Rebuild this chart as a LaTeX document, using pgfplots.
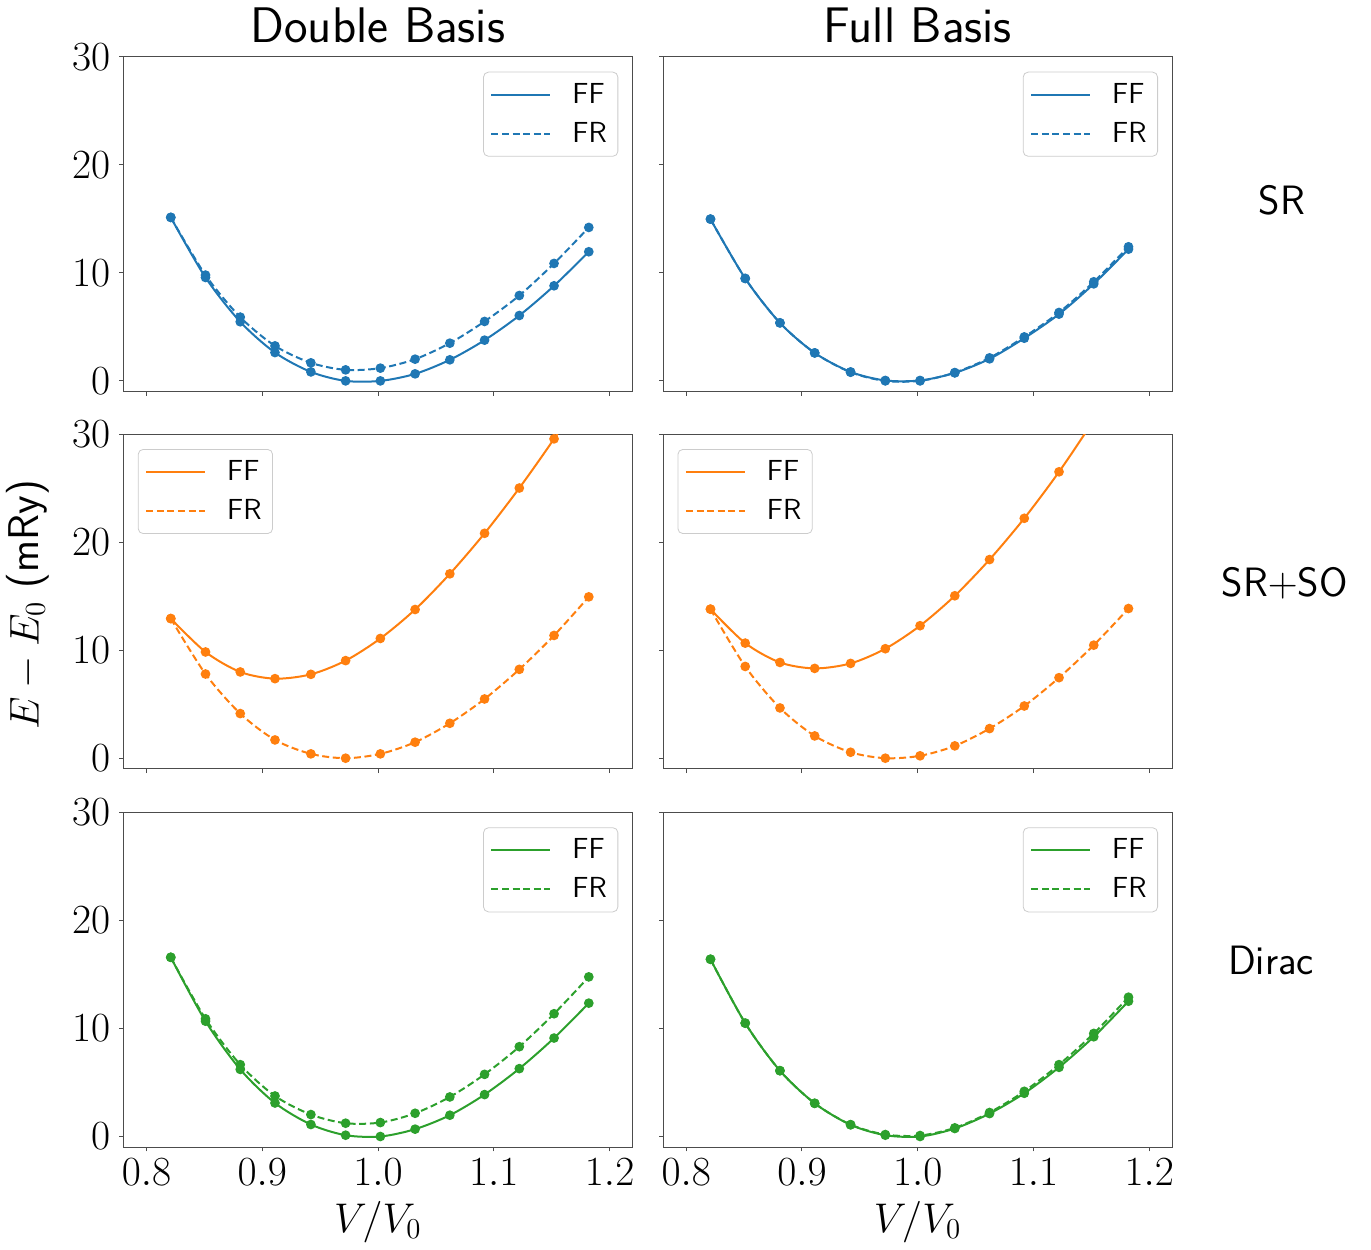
\documentclass[border=0pt]{standalone}
\usepackage{pgfplots}
\usepackage{pgfplotstable}
\pgfplotsset{compat=1.18}
\definecolor{tabblue}{RGB}{31,119,180}
\definecolor{taborange}{RGB}{255,127,14}
\definecolor{tabgreen}{RGB}{44,160,44}

\pgfplotstableread{
x ff fr
0.821 15.13 15.13
0.851 9.57 9.79
0.881 5.47 5.90
0.911 2.62 3.24
0.942 0.83 1.67
0.972 0.00 1.02
1.002 0.00 1.18
1.032 0.65 2.01
1.062 1.95 3.49
1.092 3.77 5.50
1.122 6.05 7.90
1.152 8.80 10.87
1.182 11.95 14.20
}\TLa
\pgfplotstableread{
x ff fr
0.821 14.97 14.97
0.851 9.48 9.48
0.881 5.37 5.37
0.911 2.59 2.59
0.942 0.83 0.80
0.972 0.04 0.00
1.002 0.04 0.00
1.032 0.74 0.77
1.062 2.04 2.13
1.092 3.95 4.07
1.122 6.18 6.33
1.152 8.98 9.17
1.182 12.19 12.41
}\TRa
\pgfplotstableread{
x ff fr
0.821 12.92 12.92
0.851 9.83 7.79
0.881 7.98 4.13
0.911 7.36 1.69
0.942 7.76 0.40
0.972 9.03 0.00
1.002 11.08 0.40
1.032 13.76 1.48
1.062 17.06 3.23
1.092 20.81 5.48
1.122 25.00 8.22
1.152 29.55 11.36
1.182 34.40 14.93
}\MLa
\pgfplotstableread{
x ff fr
0.821 13.79 13.79
0.851 10.65 8.49
0.881 8.86 4.65
0.911 8.31 2.06
0.942 8.77 0.55
0.972 10.13 0.00
1.002 12.26 0.22
1.032 15.03 1.14
1.062 18.38 2.74
1.092 22.20 4.83
1.122 26.50 7.45
1.152 31.30 10.46
1.182 36.60 13.85
}\MRa
\pgfplotstableread{
x ff fr
0.821 16.58 16.58
0.851 10.67 10.89
0.881 6.21 6.65
0.911 3.10 3.75
0.942 1.11 2.03
0.972 0.12 1.23
1.002 0.00 1.29
1.032 0.68 2.15
1.062 1.97 3.66
1.092 3.88 5.75
1.122 6.28 8.31
1.152 9.11 11.36
1.182 12.34 14.77
}\BLa
\pgfplotstableread{
x ff fr
0.821 16.40 16.40
0.851 10.49 10.49
0.881 6.09 6.09
0.911 3.07 3.07
0.942 1.08 1.10
0.972 0.12 0.18
1.002 0.00 0.09
1.032 0.74 0.80
1.062 2.12 2.22
1.092 4.00 4.18
1.122 6.40 6.65
1.152 9.23 9.54
1.182 12.52 12.89
}\BRa

\pgfplotsset{
  panel/.style={
    scale only axis, width=254.75pt, height=167.5pt,
    anchor=south west,
    xmin=0.78, xmax=1.22, ymin=-1, ymax=30,
    xtick={0.8,0.9,1.0,1.1,1.2}, ytick={0,10,20,30},
    tick align=outside, xtick pos=left, ytick pos=left,
    major tick length=2pt,
    axis line style={black!70, line width=0.5pt},
    tick style={black!70, line width=0.5pt},
    ticklabel style={font=\fontsize{22}{25}\selectfont},
    xticklabel style={/pgf/number format/.cd, fixed, fixed zerofill, precision=1},
    yticklabel style={xshift=-1pt},
    legend cell align=left,
    legend image code/.code={\path (-1.5pt,0pt) (36.5pt,0pt);\draw[#1] (0pt,0pt) -- (29.5pt,0pt);},
    legend style={draw=black!20, rounded corners=2.5pt, fill=white,
      font=\sffamily\fontsize{14.5}{17}\selectfont,
      inner xsep=2pt, inner ysep=2pt, row sep=1pt,
      nodes={inner sep=3.5pt}},
  },
  legur/.style={legend style={at={(1,1)}, anchor=north east, xshift=-7.25pt, yshift=-7.5pt}},
  legul/.style={legend style={at={(0,1)}, anchor=north west, xshift=7.25pt, yshift=-7.5pt}},
  ffs/.style={#1, line width=1pt, smooth, mark=*, mark size=1.9pt, mark options={solid}},
  frs/.style={#1, line width=1pt, smooth, dash pattern=on 3.5pt off 1.8pt, mark=*, mark size=1.9pt, mark options={solid}},
}

\begin{document}
\begin{tikzpicture}
\path[use as bounding box] (0,0) rectangle (685.5pt,624.5pt);

% Row 1
\begin{axis}[panel, legur, at={(61.65pt,428.65pt)}, xticklabels={}]
\addplot[ffs=tabblue] table[x=x,y=ff]{\TLa};
\addplot[frs=tabblue] table[x=x,y=fr]{\TLa};
\legend{FF,FR}
\end{axis}
\begin{axis}[panel, legur, at={(331.5pt,428.65pt)}, xticklabels={}, yticklabels={}]
\addplot[ffs=tabblue] table[x=x,y=ff]{\TRa};
\addplot[frs=tabblue] table[x=x,y=fr]{\TRa};
\legend{FF,FR}
\end{axis}

% Row 2
\begin{axis}[panel, legul, at={(61.65pt,240pt)}, xticklabels={}]
\addplot[ffs=taborange] table[x=x,y=ff]{\MLa};
\addplot[frs=taborange] table[x=x,y=fr]{\MLa};
\legend{FF,FR}
\end{axis}
\begin{axis}[panel, legul, at={(331.5pt,240pt)}, xticklabels={}, yticklabels={}]
\addplot[ffs=taborange] table[x=x,y=ff]{\MRa};
\addplot[frs=taborange] table[x=x,y=fr]{\MRa};
\legend{FF,FR}
\end{axis}

% Row 3
\begin{axis}[panel, legur, at={(61.65pt,50.85pt)}]
\addplot[ffs=tabgreen] table[x=x,y=ff]{\BLa};
\addplot[frs=tabgreen] table[x=x,y=fr]{\BLa};
\legend{FF,FR}
\end{axis}
\begin{axis}[panel, legur, at={(331.5pt,50.85pt)}, yticklabels={}]
\addplot[ffs=tabgreen] table[x=x,y=ff]{\BRa};
\addplot[frs=tabgreen] table[x=x,y=fr]{\BRa};
\legend{FF,FR}
\end{axis}

% Titles and labels
\node[anchor=base, font=\sffamily\fontsize{25}{29}\selectfont] at (188.9pt,603pt) {Double Basis};
\node[anchor=base, font=\sffamily\fontsize{25}{29}\selectfont] at (458.75pt,603pt) {Full Basis};
\node[anchor=base, font=\sffamily\fontsize{20.5}{24}\selectfont] at (641pt,517pt) {SR};
\node[anchor=base, font=\sffamily\fontsize{20.5}{24}\selectfont] at (642.3pt,326.2pt) {SR$+$SO};
\node[anchor=base, font=\sffamily\fontsize{20.5}{24}\selectfont] at (635.5pt,137.5pt) {Dirac};
\node[rotate=90, font=\fontsize{21.5}{25}\selectfont] at (14pt,322pt) {$E - E_0$ \textsf{(mRy)}};
\node[font=\fontsize{21.5}{25}\selectfont] at (188.9pt,13.5pt) {$V/V_0$};
\node[font=\fontsize{21.5}{25}\selectfont] at (458.75pt,13.5pt) {$V/V_0$};
\end{tikzpicture}
\end{document}
